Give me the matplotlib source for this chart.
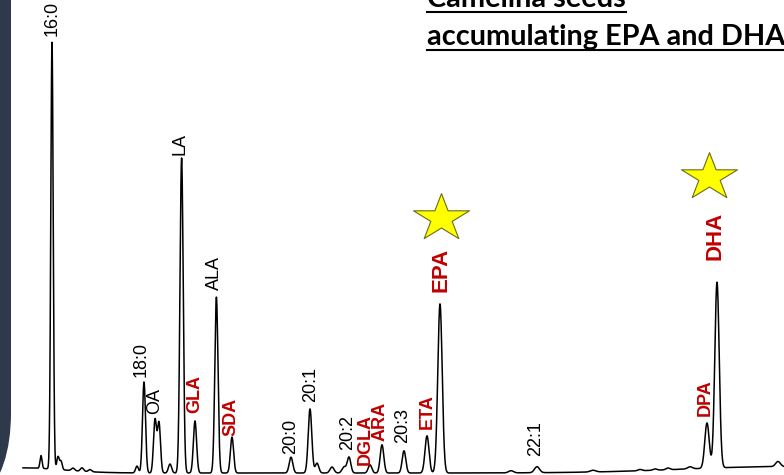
import numpy as np
import matplotlib
matplotlib.use("Agg")
from matplotlib import pyplot as plt
from matplotlib.path import Path
from matplotlib.patches import FancyBboxPatch
from matplotlib.transforms import IdentityTransform, offset_copy
from matplotlib.lines import Line2D

# GC-FID trace of Camelina seed FAMEs
# labelled peaks: retention time (min), height (mV), sigma (min)
peak_names = ["16:0", "18:0", "OA", "LA", "GLA", "ALA", "SDA", "20:0", "20:1",
              "20:2", "DGLA", "ARA", "20:3", "ETA", "EPA", "22:1", "DPA", "DHA"]
peak_rt = [1.30, 3.60, 3.875, 4.54, 4.875, 5.41, 5.80, 7.275, 7.75,
           8.725, 9.25, 9.55, 10.10, 10.675, 11.00, 13.425, 17.675, 17.925]
peak_height = [100.0, 21.3, 12.4, 73.8, 12.2, 41.2, 8.4, 3.7, 15.0,
               3.7, 1.9, 6.6, 5.2, 8.7, 39.6, 1.4, 10.6, 43.5]
peak_sigma = [0.030, 0.0375, 0.0375, 0.040, 0.040, 0.040, 0.040, 0.045, 0.045,
              0.045, 0.045, 0.045, 0.045, 0.050, 0.055, 0.0625, 0.055, 0.055]

# unlabelled minor peaks and baseline drift
minor_rt = [0.575, 1.025, 1.45, 1.525, 1.825, 2.05, 2.25, 3.425, 3.975, 4.25,
            7.925, 8.30, 8.60, 12.775, 14.825, 16.0, 16.375, 16.7, 17.25, 19.45, 19.6]
minor_height = [1.2, 3.0, 3.0, 2.0, 0.6, 0.8, 0.5, 1.6, 11.7, 2.1,
                2.3, 1.4, 1.4, 0.5, 0.4, 0.3, 0.3, 0.4, 0.5, 1.2, 1.5]
minor_sigma = [1.0, 0.025, 0.03, 0.03, 0.04, 0.04, 0.04, 0.035, 0.0375, 0.04,
               0.045, 0.05, 0.05, 0.06, 0.07, 0.05, 0.05, 0.05, 0.06, 0.06, 2.5]

red_names = ["GLA", "SDA", "DGLA", "ARA", "ETA", "EPA", "DPA", "DHA"]
big_names = ["EPA", "DHA"]
star_names = ["EPA", "DHA"]

# label shifts (dx, gap) in pixels
label_shift = {"16:0": (0, 6), "18:0": (-3, 5), "OA": (0, 5), "LA": (-1.5, 3),
               "GLA": (0, 8), "ALA": (-1.5, 7), "SDA": (-1, 1), "20:0": (0, 3),
               "20:1": (1, 7), "20:2": (-1, 7), "DGLA": (-5, 0), "ARA": (-2, 4),
               "20:3": (-1, 8), "ETA": (0, 7), "EPA": (1, 12), "22:1": (-1, 11),
               "DPA": (-2, 7), "DHA": (-2, 22)}
star_shift = {"EPA": (1, 86), "DHA": (-8, 105)}

all_rt = np.array(peak_rt + minor_rt)
all_h = np.array(peak_height + minor_height)
all_s = np.array(peak_sigma + minor_sigma)


def signal(t):
    t = np.atleast_1d(t)[:, None]
    return (all_h * np.exp(-0.5 * ((t - all_rt) / all_s) ** 2)).sum(axis=1)


px = 0.72  # points per pixel at 100 dpi

fig = plt.figure(figsize=(7.84, 4.75), dpi=100)
ax = fig.add_axes([0, 0, 1, 1])
ax.set_xlim(0, 19.6)
ax.set_ylim(-0.47, 110.77)
ax.axis("off")

t = np.arange(0.575, 19.6, 0.004)
ax.plot(t, signal(t), color="black", lw=1.1)

for name, rt in zip(peak_names, peak_rt):
    apex = signal(rt)[0]
    dx, gap = label_shift[name]
    color = "#c00000" if name in red_names else "black"
    weight = "bold" if name in red_names else "normal"
    size = 16 if name in big_names else 13
    ax.annotate(name, xy=(rt, apex), xytext=(dx * px, gap * px),
                textcoords="offset points", rotation=90, ha="center",
                va="bottom", color=color, fontweight=weight, fontsize=size,
                family=["Liberation Sans", "DejaVu Sans"])

# wide five-pointed star
ang = np.pi / 2 + np.arange(10) * np.pi / 5
rad = np.where(np.arange(10) % 2 == 0, 1.0, 0.382)
verts = np.column_stack([1.183 * rad * np.cos(ang), rad * np.sin(ang)])
verts = np.vstack([verts, verts[:1]])
star = Path(verts, [Path.MOVETO] + [Path.LINETO] * 9 + [Path.CLOSEPOLY])

for name in star_names:
    rt = peak_rt[peak_names.index(name)]
    apex = signal(rt)[0]
    dx, dy = star_shift[name]
    tr = offset_copy(ax.transData, fig=fig, x=dx * px, y=dy * px, units="points")
    ax.plot([rt], [apex], marker=star, markersize=40.3, color="#ffff00",
            markeredgecolor="#6b6b1a", markeredgewidth=0.8, transform=tr,
            linestyle="none")

# slide border on the left
fig.add_artist(FancyBboxPatch((-200, -53), 211, 700,
                              boxstyle="round,pad=0,rounding_size=115",
                              transform=IdentityTransform(),
                              facecolor="#2e394c", edgecolor="none"))

# underlined heading
heading = []
for line, base in [("Camelina seeds", 7), ("accumulating EPA and DHA", 45)]:
    txt = fig.text(427 / 784, 1 - base / 475, line, fontsize=20.8,
                   fontweight="bold", family=["Lato", "DejaVu Sans"],
                   va="baseline", ha="left", color="black")
    heading.append((txt, base))

fig.canvas.draw()
renderer = fig.canvas.get_renderer()
for txt, base in heading:
    bb = txt.get_window_extent(renderer)
    y = 475 - base - 5
    fig.add_artist(Line2D([bb.x0, bb.x1], [y, y], color="black", lw=1.5,
                          transform=IdentityTransform()))

fig.savefig("out.png", dpi=100, facecolor="white")
